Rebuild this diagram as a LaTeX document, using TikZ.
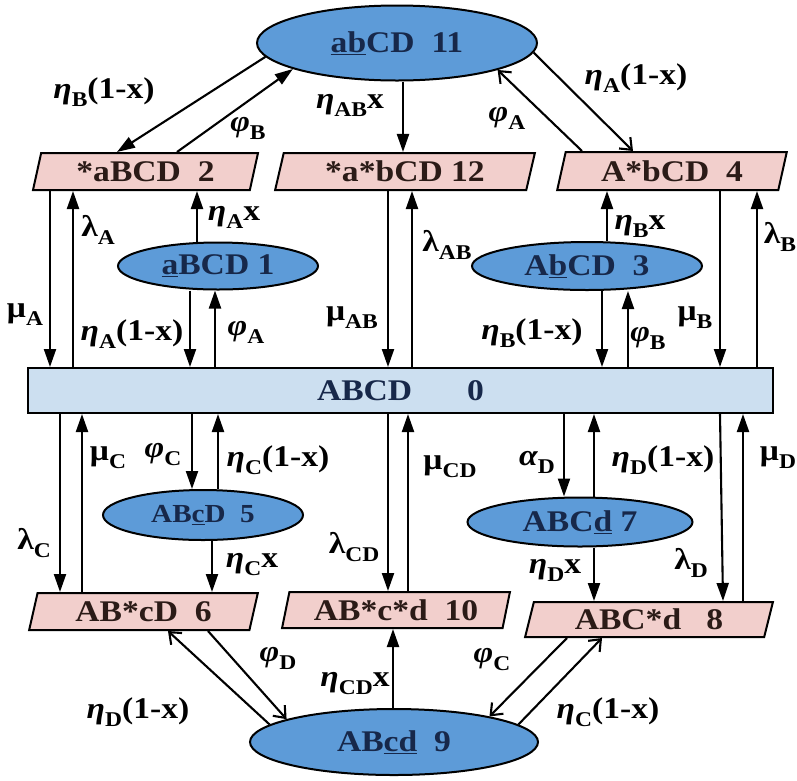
\documentclass[tikz,border=0pt]{standalone}
\usepackage{fontspec}
\setmainfont[FakeStretch=1.12]{Liberation Serif}
\usetikzlibrary{shapes.geometric,arrows.meta}
\definecolor{ellblue}{HTML}{5D9BD8}
\definecolor{elltext}{HTML}{17284A}
\definecolor{boxpink}{HTML}{F2CFCC}
\definecolor{zeroblue}{HTML}{CCDFF0}
\definecolor{boxtext}{HTML}{2B1B17}
\newcommand{\sbs}[1]{\raisebox{-8pt}{\fontsize{21}{21}\selectfont #1}}
\newcommand{\gi}[1]{{\itshape #1}}
\tikzset{
  ell/.style={ellipse, draw, line width=2pt, fill=ellblue, text=elltext, inner sep=0pt},
  pbox/.style={trapezium, trapezium left angle=75, trapezium right angle=105,
    trapezium stretches=true, draw, line width=2pt, fill=boxpink, text=boxtext, inner sep=0pt},
  zbox/.style={rectangle, draw, line width=2pt, fill=zeroblue, text=elltext, inner sep=0pt},
  lbl/.style={inner sep=0pt},
  fa/.style={-{Triangle[length=18pt,width=12pt]}},
  oa/.style={-{Straight Barb[length=10pt,width=16pt]}},
}
\begin{document}
\begin{tikzpicture}[x=1pt,y=-1pt,font=\bfseries\fontsize{30}{32}\selectfont,line width=2.1pt]
\useasboundingbox (0,0) rectangle (797,780);
% states
\node[ell, minimum width=280pt, minimum height=75pt] (e11) at (397,43) {\underline{ab}CD\ \ 11};
\node[pbox, minimum width=225pt, minimum height=37pt] (b2) at (145.5,171.5) {*aBCD\ \ 2};
\node[pbox, minimum width=260pt, minimum height=37pt] (b12) at (405,171.5) {*a*bCD 12};
\node[pbox, minimum width=230pt, minimum height=38pt] (b4) at (672,171) {A*bCD\ \ 4};
\node[ell, minimum width=200pt, minimum height=47pt] (e1) at (218,266) {\underline{a}BCD\ 1};
\node[ell, minimum width=230pt, minimum height=48pt] (e3) at (587,266) {A\underline{b}CD\ \ 3};
\node[zbox, minimum width=745pt, minimum height=45pt] (b0) at (400.5,390.5) {ABCD\hspace{55pt}0};
\node[ell, minimum width=200pt, minimum height=50pt, font=\bfseries\fontsize{26}{28}\selectfont] (e5) at (203,515) {AB\underline{c}D\ \ 5};
\node[ell, minimum width=225pt, minimum height=49pt] (e7) at (580,522) {ABC\underline{d} 7};
\node[pbox, minimum width=229pt, minimum height=37pt] (b6) at (143.5,611.5) {AB*cD\ \ 6};
\node[pbox, minimum width=228pt, minimum height=36pt] (b10) at (396,610) {AB*c*d\ \ 10};
\node[pbox, minimum width=248pt, minimum height=35pt] (b8) at (649,619.5) {ABC*d\ \ \ 8};
\node[ell, minimum width=288pt, minimum height=66pt] (e9) at (394,742) {AB\underline{cd}\ \ 9};
% top connectors
\draw[fa] (e11.186) -- (b2.north -| 117,0);
\draw[fa] (b2.north -| 177,0) -- (e11.194);
\draw[fa] (e11.south -| 403,0) -- (b12.north -| 403,0);
\draw[oa] (b4.north -| 582,0) -- (e11.345);
\draw[oa] (e11.356) -- (b4.north -| 633,0);
% upper middle
\draw[fa] (b2.south -| 50,0) -- (b0.north -| 50,0);
\draw[fa] (b0.north -| 73,0) -- (b2.south -| 73,0);
\draw[fa] (e1.north -| 197,0) -- (b2.south -| 197,0);
\draw[fa] (e1.south -| 190,0) -- (b0.north -| 190,0);
\draw[fa] (b0.north -| 215,0) -- (e1.south -| 215,0);
\draw[fa] (b12.south -| 388,0) -- (b0.north -| 388,0);
\draw[fa] (b0.north -| 412,0) -- (b12.south -| 412,0);
\draw[fa] (e3.north -| 607,0) -- (b4.south -| 607,0);
\draw[fa] (e3.south -| 602,0) -- (b0.north -| 602,0);
\draw[fa] (b0.north -| 628,0) -- (e3.south -| 628,0);
\draw[fa] (b4.south -| 720,0) -- (b0.north -| 720,0);
\draw[fa] (b0.north -| 757,0) -- (b4.south -| 757,0);
% lower middle
\draw[fa] (b0.south -| 60,0) -- (b6.north -| 60,0);
\draw[fa] (b6.north -| 82,0) -- (b0.south -| 82,0);
\draw[fa] (b0.south -| 192,0) -- (e5.north -| 192,0);
\draw[fa] (e5.north -| 218,0) -- (b0.south -| 218,0);
\draw[fa] (e5.south -| 212,0) -- (b6.north -| 212,0);
\draw[fa] (b0.south -| 388,0) -- (b10.north -| 388,0);
\draw[fa] (b10.north -| 408,0) -- (b0.south -| 408,0);
\draw[fa] (b0.south -| 564,0) -- (e7.north -| 564,0);
\draw[fa] (e7.north -| 594,0) -- (b0.south -| 594,0);
\draw[fa] (e7.south -| 594,0) -- (b8.north -| 594,0);
\draw[fa] (b0.south -| 720,0) -- (b8.north -| 723,0);
\draw[fa] (b8.north -| 743,0) -- (b0.south -| 743,0);
% bottom
\draw[oa] (e9.172) -- (b6.south -| 168,0);
\draw[oa] (b6.south -| 208,0) -- (e9.168);
\draw[fa] (e9.north -| 393,0) -- (b10.south -| 393,0);
\draw[oa] (b8.south -| 567,0) -- (e9.15);
\draw[oa] (e9.8) -- (b8.south -| 602,0);
% labels
\node[lbl] (l1) at (104,92) {\gi{η}\sbs{B}(1-x)};
\node[lbl] (l2) at (248,128) {\gi{φ}\sbs{B}};
\node[lbl] (l3) at (350,105) {\gi{η}\sbs{AB}x};
\node[lbl] (l4) at (507,118) {\gi{φ}\sbs{A}};
\node[lbl] (l5) at (636,78) {\gi{η}\sbs{A}(1-x)};
\node[lbl] (l6) at (25,315) {μ\sbs{A}};
\node[lbl] (l7) at (98,230) {λ\sbs{A}};
\node[lbl] (l8) at (234,217) {\gi{η}\sbs{A}x};
\node[lbl] (l9) at (132,334) {\gi{η}\sbs{A}(1-x)};
\node[lbl] (l10) at (246,332) {\gi{φ}\sbs{A}};
\node[lbl] (l11) at (352,318) {μ\sbs{AB}};
\node[lbl] (l12) at (447,245) {λ\sbs{AB}};
\node[lbl] (l13) at (640,226) {\gi{η}\sbs{B}x};
\node[lbl] (l14) at (532,333) {\gi{η}\sbs{B}(1-x)};
\node[lbl] (l15) at (648,338) {\gi{φ}\sbs{B}};
\node[lbl] (l16) at (695,318) {μ\sbs{B}};
\node[lbl] (l17) at (780,237) {λ\sbs{B}};
\node[lbl] (l18) at (34,543) {λ\sbs{C}};
\node[lbl] (l19) at (108,458) {μ\sbs{C}};
\node[lbl] (l20) at (163,455) {\gi{φ}\sbs{C}};
\node[lbl] (l21) at (278,460) {\gi{η}\sbs{C}(1-x)};
\node[lbl] (l22) at (252,565) {\gi{η}\sbs{C}x};
\node[lbl] (l23) at (354,547) {λ\sbs{CD}};
\node[lbl] (l24) at (450,467) {μ\sbs{CD}};
\node[lbl] (l25) at (537,462) {\gi{α}\sbs{D}};
\node[lbl] (l26) at (663,460) {\gi{η}\sbs{D}(1-x)};
\node[lbl] (l27) at (555,570) {\gi{η}\sbs{D}x};
\node[lbl] (l28) at (691,563) {λ\sbs{D}};
\node[lbl] (l29) at (778,458) {μ\sbs{D}};
\node[lbl] (l30) at (138,712) {\gi{η}\sbs{D}(1-x)};
\node[lbl] (l31) at (278,658) {\gi{φ}\sbs{D}};
\node[lbl] (l32) at (355,684) {\gi{η}\sbs{CD}x};
\node[lbl] (l33) at (492,660) {\gi{φ}\sbs{C}};
\node[lbl] (l34) at (608,712) {\gi{η}\sbs{C}(1-x)};
\end{tikzpicture}
\end{document}
